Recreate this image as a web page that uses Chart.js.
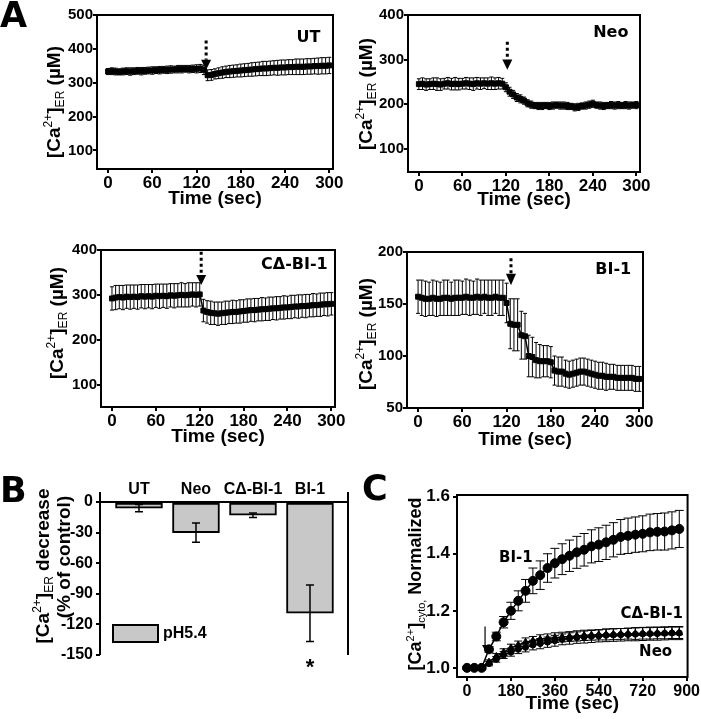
<!DOCTYPE html>
<html>
<head>
<meta charset="utf-8">
<script src="https://cdn.jsdelivr.net/npm/chart.js@4.4.0/dist/chart.umd.min.js"></script>
<style>
  html, body { margin: 0; padding: 0; background: #fff; }
  #wrap { position: relative; width: 701px; height: 719px; overflow: hidden; background: #fff; }
  canvas { position: absolute; }
</style>
</head>
<body>
<div id="wrap">
  <canvas id="cUT" width="350" height="220" style="left:0px;top:0px"></canvas>
  <canvas id="cNeo" width="351" height="220" style="left:350px;top:0px"></canvas>
  <canvas id="cCd" width="350" height="240" style="left:0px;top:220px"></canvas>
  <canvas id="cBI" width="351" height="240" style="left:350px;top:220px"></canvas>
  <canvas id="cB" width="355" height="259" style="left:0px;top:460px"></canvas>
  <canvas id="cC" width="346" height="259" style="left:355px;top:460px"></canvas>
</div>
<script>
"use strict";
const FONT = "'Liberation Sans', Arial, sans-serif";
const LFONT = "'DejaVu Sans', sans-serif";
Chart.defaults.font.family = FONT;
Chart.defaults.font.weight = 'bold';
Chart.defaults.color = '#000';

// ---- Panel A: ER calcium traces (time in sec) ----
const tA = [0,5,10,15,20,25,30,35,40,45,50,55,60,65,70,75,80,85,90,95,100,105,110,115,120,125,130,135,140,145,150,155,160,165,170,175,180,185,190,195,200,205,210,215,220,225,230,235,240,245,250,255,260,265,270,275,280,285,290,295,300];
const xTicksA = [0, 60, 120, 180, 240, 300];

const utVals = [333,334,333,332,333,334,333,334,335,334,335,336,336,
  337,337,338,338,339,339,340,340,341,340,341,341,342,
  338,322,323,326,328,330,332,333,334,335,336,337,338,339,340,341,342,342,343,344,344,345,345,346,346,347,347,347,348,348,349,349,350,350,351];
const utErr = [9,10,10,9,10,10,11,10,10,11,10,10,11,10,11,10,11,11,10,11,11,10,11,11,12,12,
  14,16,16,15,16,17,17,18,18,18,19,19,19,20,20,20,21,21,21,21,22,22,22,22,22,23,23,23,23,23,23,24,24,24,24];

const neoVals = [245,246,244,245,246,245,244,246,247,245,246,245,246,247,246,245,247,246,247,246,247,246,247,246,
  238,228,222,215,212,208,202,199,197,196,196,197,196,197,198,197,197,196,195,193,194,196,197,199,201,198,197,196,197,198,197,198,197,198,197,198,198];
const neoErr = [12,13,13,12,13,14,13,12,13,13,14,13,12,13,13,14,13,13,12,13,14,13,13,12,
  10,10,9,9,9,8,8,8,7,8,8,7,8,8,7,8,8,8,7,8,8,7,8,8,8,7,8,8,7,8,8,8,7,8,8,7,8];

const cdVals = [292,294,295,294,296,295,296,295,297,296,297,296,298,297,298,297,299,298,299,300,299,300,301,300,301,
  265,262,260,259,258,259,260,261,262,262,263,264,265,266,266,267,268,268,269,270,270,271,272,272,273,274,274,275,275,276,277,277,278,279,279,280];
const cdErr = [26,27,26,27,26,27,26,27,26,27,26,27,26,27,26,27,26,27,26,27,26,27,26,27,26,
  25,25,26,25,26,25,26,25,26,25,26,25,26,25,26,25,26,25,26,25,26,25,26,25,26,25,26,25,26,25,26,25,26,25,26,25];

const biVals = [157,156,155,155,156,155,155,156,156,155,156,156,156,157,156,156,157,156,157,156,156,157,156,156,
  151,131,130,130,120,119,100,99,96,95,95,95,94,86,85,85,83,82,83,84,85,85,84,83,82,81,81,80,80,80,79,79,79,79,79,78,78];
const biErr = [16,17,17,16,17,17,16,17,17,16,17,17,16,17,17,16,17,17,16,17,17,16,17,17,
  19,24,25,25,23,22,20,19,17,16,15,15,15,14,14,14,13,13,13,13,13,13,13,13,13,13,13,13,12,12,12,12,12,12,12,12,12];

// ---- Panel B: decrease at pH 5.4 ----
const catsB = ['UT', 'Neo', 'C\u0394-BI-1', 'BI-1'];
const posB = [0, 1, 2, 3];
const valsB = [-6, -30, -13, -109];
const errB = [3.5, 9.5, 2.3, 27.7];
const yTicksB = [-150, -120, -90, -60, -30, 0];

// ---- Panel C: cytosolic calcium, normalized ----
const tC = [0,30,60,90,120,150,180,210,240,270,300,330,360,390,420,450,480,510,540,570,600,630,660,690,720,750,780,810,840,870];
const bi1C = [1.0,1.0,1.0,1.065,1.11,1.16,1.20,1.235,1.27,1.305,1.325,1.35,1.367,1.381,1.393,1.405,1.414,1.426,1.432,1.44,1.449,1.459,1.463,1.467,1.47,1.475,1.477,1.478,1.482,1.487];
const bi1CErr = [0.005,0.005,0.005,0.01,0.015,0.02,0.03,0.035,0.04,0.045,0.05,0.05,0.052,0.054,0.055,0.056,0.057,0.058,0.059,0.06,0.06,0.061,0.062,0.062,0.063,0.064,0.064,0.065,0.065,0.065];
const cdC = [1.0,1.0,1.0,1.02,1.04,1.055,1.07,1.08,1.09,1.095,1.10,1.103,1.106,1.108,1.11,1.112,1.114,1.115,1.116,1.117,1.118,1.119,1.12,1.12,1.121,1.121,1.122,1.122,1.123,1.123];
const cdCErr = [0.004,0.004,0.004,0.008,0.01,0.012,0.013,0.014,0.015,0.015,0.016,0.016,0.017,0.017,0.017,0.018,0.018,0.018,0.018,0.019,0.019,0.019,0.019,0.02,0.02,0.02,0.02,0.02,0.02,0.02];
const neoC = [1.0,1.0,1.0,1.015,1.03,1.045,1.055,1.065,1.072,1.08,1.085,1.09,1.095,1.10,1.103,1.106,1.108,1.11,1.112,1.114,1.115,1.116,1.117,1.118,1.119,1.12,1.12,1.121,1.122,1.122];
const neoCErr = [0.004,0.004,0.004,0.008,0.01,0.012,0.014,0.015,0.016,0.017,0.018,0.018,0.019,0.019,0.02,0.02,0.021,0.021,0.021,0.022,0.022,0.022,0.022,0.023,0.023,0.023,0.023,0.023,0.023,0.023];
const xTicksC = [0, 180, 360, 540, 720, 900];
const yTicksC = [1.0, 1.2, 1.4, 1.6];

// error bars from dataset.errs, drawn over the marks
const errorBars = {
  id: 'errorBars',
  afterDatasetsDraw(chart) {
    const ctx = chart.ctx;
    const ys = chart.scales.y;
    chart.data.datasets.forEach((ds, i) => {
      if (!ds.errs) return;
      const meta = chart.getDatasetMeta(i);
      ctx.save();
      ctx.strokeStyle = '#000';
      ctx.lineWidth = ds.errWidth || 1;
      meta.data.forEach((el, j) => {
        const v = ds.data[j].y;
        const e = ds.errs[j];
        const hi = ys.getPixelForValue(v + e), lo = ys.getPixelForValue(v - e);
        const w = ds.capW / 2;
        ctx.beginPath();
        ctx.moveTo(el.x, hi); ctx.lineTo(el.x, lo);
        ctx.moveTo(el.x - w, hi); ctx.lineTo(el.x + w, hi);
        ctx.moveTo(el.x - w, lo); ctx.lineTo(el.x + w, lo);
        ctx.stroke();
      });
      ctx.restore();
    });
  }
};
Chart.register(errorBars);

// rotated axis title with super/subscripts
function drawRich(ctx, parts, cx, cy, size) {
  ctx.save();
  ctx.translate(cx, cy);
  ctx.rotate(-Math.PI / 2);
  ctx.textAlign = 'left';
  ctx.textBaseline = 'alphabetic';
  const fontFor = p => p[1] ? `normal ${Math.round(size * 0.62)}px ${FONT}` : `bold ${size}px ${FONT}`;
  let w = 0;
  parts.forEach(p => { ctx.font = fontFor(p); w += ctx.measureText(p[0]).width; });
  let xx = -w / 2;
  const base = size * 0.36;
  parts.forEach(p => {
    ctx.font = fontFor(p);
    const dy = p[1] === 'sup' ? -size * 0.42 : p[1] === 'sub' ? size * 0.22 : 0;
    ctx.fillText(p[0], xx, base + dy);
    xx += ctx.measureText(p[0]).width;
  });
  ctx.restore();
}

// frame, labels, arrows, titles, panel letter
function deco(cfg) {
  return {
    id: 'deco',
    afterDraw(chart) {
      const { ctx, chartArea: a } = chart;
      const xs = chart.scales.x, ys = chart.scales.y;
      ctx.save();
      ctx.fillStyle = '#000';
      ctx.strokeStyle = '#000';
      ctx.lineWidth = 2;
      if (cfg.frame === 'box') ctx.strokeRect(a.left, a.top, a.width, a.height);
      if (cfg.frame === 'sides') {
        ctx.beginPath();
        ctx.moveTo(a.left, a.top - 10); ctx.lineTo(a.left, a.bottom);
        ctx.moveTo(a.right, a.top - 10); ctx.lineTo(a.right, a.bottom);
        ctx.stroke();
      }
      (cfg.arrows || []).forEach(ar => {
        const px = xs.getPixelForValue(ar.x);
        const pTop = ys.getPixelForValue(ar.top), pNeck = ys.getPixelForValue(ar.neck), pTip = ys.getPixelForValue(ar.tip);
        ctx.beginPath();
        if (ar.dotted) { ctx.lineWidth = 3; ctx.setLineDash([3, 3]); } else { ctx.lineWidth = 1.2; }
        ctx.moveTo(px, pTop); ctx.lineTo(px, pNeck);
        ctx.stroke();
        ctx.setLineDash([]);
        ctx.beginPath();
        ctx.moveTo(px - ar.hw, pNeck); ctx.lineTo(px + ar.hw, pNeck); ctx.lineTo(px, pTip);
        ctx.closePath();
        ctx.fill();
      });
      (cfg.texts || []).forEach(t => {
        ctx.font = t.font;
        ctx.textAlign = t.align || 'center';
        ctx.textBaseline = 'middle';
        ctx.fillText(t.text, xs.getPixelForValue(t.x), ys.getPixelForValue(t.y));
      });
      if (cfg.legend) {
        const ds = chart.data.datasets[0];
        const lx = a.left + 13, ly = a.bottom - 30;
        ctx.fillStyle = ds.backgroundColor;
        ctx.fillRect(lx, ly, 45, 17);
        ctx.lineWidth = 2;
        ctx.strokeRect(lx, ly, 45, 17);
        ctx.fillStyle = '#000';
        ctx.font = `bold 16px ${FONT}`;
        ctx.textAlign = 'left';
        ctx.textBaseline = 'middle';
        ctx.fillText(ds.label, lx + 50, ly + 9);
      }
      if (cfg.star) {
        ctx.font = `bold 22px ${FONT}`;
        ctx.textAlign = 'center';
        ctx.textBaseline = 'middle';
        ctx.fillText('*', xs.getPixelForValue(cfg.star), a.bottom + 13);
      }
      (cfg.yTitles || []).forEach(t => drawRich(ctx, t.parts, t.cx, t.cy, t.size));
      if (cfg.letter) {
        ctx.font = `bold 35px ${LFONT}`;
        ctx.textAlign = 'left';
        ctx.textBaseline = 'alphabetic';
        ctx.fillText(cfg.letter.text, cfg.letter.x, cfg.letter.y);
      }
      ctx.restore();
    }
  };
}

const caER = [['[Ca', ''], ['2+', 'sup'], [']', ''], ['ER', 'sub'], [' (\u00b5M)', '']];

function panelA(id, vals, errs, yMin, yMax, yTicks, o) {
  return new Chart(document.getElementById(id), {
    type: 'line',
    data: {
      datasets: [{
        data: tA.map((t, i) => ({ x: t, y: vals[i] })),
        errs: errs, capW: 4,
        borderColor: '#000', borderWidth: 1.5,
        backgroundColor: '#000', pointBackgroundColor: '#000', pointBorderColor: '#000',
        pointStyle: 'rect', pointRadius: 3.5, pointBorderWidth: 1
      }]
    },
    options: {
      responsive: false, animation: false, events: [],
      layout: { padding: { top: o.padTop, right: o.padRight, left: 0, bottom: 0 } },
      plugins: { legend: { display: false }, tooltip: { enabled: false } },
      scales: {
        x: {
          type: 'linear', min: -15, max: 305,
          afterBuildTicks: s => { s.ticks = xTicksA.map(v => ({ value: v })); },
          afterFit: s => { s.height = o.xH; },
          border: { display: false },
          grid: { drawOnChartArea: false, color: '#000', lineWidth: 2, tickLength: 4 },
          ticks: { autoSkip: false, maxRotation: 0, padding: 0, font: { size: 17, weight: 'bold' } },
          title: { display: true, text: 'Time (sec)', font: { size: 19, weight: 'bold' }, padding: { top: 0, bottom: o.titlePad } }
        },
        y: {
          type: 'linear', min: yMin, max: yMax,
          afterBuildTicks: s => { s.ticks = yTicks.map(v => ({ value: v })); },
          afterFit: s => { s.width = o.yW; },
          border: { display: false },
          grid: { drawOnChartArea: false, color: '#000', lineWidth: 2, tickLength: 4 },
          ticks: { autoSkip: false, padding: 0, font: { size: 15, weight: 'bold' } }
        }
      }
    },
    plugins: [deco(o.deco)]
  });
}

const bigLbl = `bold 16px ${LFONT}`;

panelA('cUT', utVals, utErr, 45, 500, [100, 200, 300, 400, 500], {
  padTop: 15, padRight: 17, xH: 51, yW: 97, titlePad: 10,
  deco: {
    frame: 'box',
    arrows: [{ x: 133, top: 425, neck: 368, tip: 338, hw: 5, dotted: true }],
    texts: [{ text: 'UT', x: 288, y: 432, align: 'right', font: bigLbl }],
    yTitles: [{ parts: caER, cx: 53, cy: 102, size: 19 }],
    letter: { text: 'A', x: 0, y: 27 }
  }
});

panelA('cNeo', neoVals, neoErr, 48, 400, [100, 200, 300, 400], {
  padTop: 15, padRight: 61, xH: 48, yW: 58, titlePad: 9,
  deco: {
    frame: 'box',
    arrows: [{ x: 122, top: 340, neck: 300, tip: 277, hw: 5, dotted: true }],
    texts: [{ text: 'Neo', x: 289, y: 360, align: 'right', font: bigLbl }],
    yTitles: [{ parts: caER, cx: 15, cy: 94, size: 19 }]
  }
});

panelA('cCd', cdVals, cdErr, 50, 400, [100, 200, 300, 400], {
  padTop: 30, padRight: 15, xH: 53, yW: 101, titlePad: 12,
  deco: {
    frame: 'box',
    arrows: [{ x: 122, top: 396, neck: 344, tip: 322, hw: 5, dotted: true }],
    texts: [{ text: 'C\u0394-BI-1', x: 295, y: 366, align: 'right', font: bigLbl }],
    yTitles: [{ parts: caER, cx: 56, cy: 103, size: 19 }]
  }
});

panelA('cBI', biVals, biErr, 50, 200, [50, 100, 150, 200], {
  padTop: 32, padRight: 58, xH: 52, yW: 57, titlePad: 9,
  deco: {
    frame: 'box',
    arrows: [{ x: 126, top: 194, neck: 179, tip: 168, hw: 5, dotted: true }],
    texts: [{ text: 'BI-1', x: 289, y: 183, align: 'right', font: bigLbl }],
    yTitles: [{ parts: caER, cx: 15, cy: 114, size: 19 }]
  }
});

// Panel B
new Chart(document.getElementById('cB'), {
  type: 'bar',
  data: {
    datasets: [{
      label: 'pH5.4',
      data: posB.map((p, i) => ({ x: p, y: valsB[i] })),
      errs: errB, capW: 8, errWidth: 1.5,
      backgroundColor: '#c8c8c8', borderColor: '#000', borderWidth: 2,
      borderSkipped: false, barThickness: 47
    }]
  },
  options: {
    responsive: false, animation: false, events: [],
    layout: { padding: { top: 0, right: 7, left: 0, bottom: 64 } },
    plugins: { legend: { display: false }, tooltip: { enabled: false } },
    scales: {
      x: {
        type: 'linear', position: 'top', min: -0.684, max: 3.667, offset: false,
        afterBuildTicks: s => { s.ticks = posB.map(v => ({ value: v })); },
        afterFit: s => { s.height = 42; },
        border: { display: true, color: '#000', width: 2 },
        grid: { display: false, drawTicks: false, offset: false },
        ticks: { autoSkip: false, maxRotation: 0, padding: 3, font: { size: 16, weight: 'bold' },
                 callback: v => catsB[Math.round(v)] }
      },
      y: {
        type: 'linear', min: -150, max: 0,
        afterBuildTicks: s => { s.ticks = yTicksB.map(v => ({ value: v })); },
        afterFit: s => { s.width = 100; },
        border: { display: false },
        grid: { drawOnChartArea: false, color: '#000', lineWidth: 2, tickLength: 4 },
        ticks: { autoSkip: false, padding: 3, font: { size: 16, weight: 'bold' } }
      }
    }
  },
  plugins: [deco({
    frame: 'sides',
    legend: true,
    star: 3,
    yTitles: [
      { parts: [['[Ca', ''], ['2+', 'sup'], [']', ''], ['ER', 'sub'], [' decrease', '']], cx: 42, cy: 106, size: 19 },
      { parts: [['(% of control)', '']], cx: 63, cy: 97, size: 19 }
    ],
    letter: { text: 'B', x: 0, y: 42 }
  })]
});

// Panel C
const lineDs = (vals, errs, style, r, cap) => ({
  data: tC.map((t, i) => ({ x: t, y: vals[i] })),
  errs: errs, capW: cap,
  borderColor: '#000', borderWidth: 1.5,
  backgroundColor: '#000', pointBackgroundColor: '#000', pointBorderColor: '#000',
  pointStyle: style, pointRadius: r, pointBorderWidth: 1
});

new Chart(document.getElementById('cC'), {
  type: 'line',
  data: {
    datasets: [
      lineDs(neoC, neoCErr, 'circle', 3, 8),
      lineDs(cdC, cdCErr, 'triangle', 4, 8),
      lineDs(bi1C, bi1CErr, 'circle', 4.5, 9)
    ]
  },
  options: {
    responsive: false, animation: false, events: [],
    layout: { padding: { top: 35, right: 13, left: 0, bottom: 0 } },
    plugins: { legend: { display: false }, tooltip: { enabled: false } },
    scales: {
      x: {
        type: 'linear', min: -41, max: 904,
        afterBuildTicks: s => { s.ticks = xTicksC.map(v => ({ value: v })); },
        afterFit: s => { s.height = 42; },
        border: { display: false },
        grid: { drawOnChartArea: false, color: '#000', lineWidth: 2, tickLength: 4 },
        ticks: { autoSkip: false, maxRotation: 0, padding: 1, font: { size: 16, weight: 'bold' } },
        title: { display: true, text: 'Time (sec)', font: { size: 19, weight: 'bold' }, padding: { top: 0, bottom: 4 } }
      },
      y: {
        type: 'linear', min: 0.968, max: 1.606,
        afterBuildTicks: s => { s.ticks = yTicksC.map(v => ({ value: v })); },
        afterFit: s => { s.width = 102; },
        border: { display: false },
        grid: { drawOnChartArea: false, color: '#000', lineWidth: 2, tickLength: 4 },
        ticks: { autoSkip: false, padding: 3, font: { size: 17, weight: 'bold' }, callback: v => v.toFixed(1) }
      }
    }
  },
  plugins: [deco({
    frame: 'box',
    arrows: [{ x: 74, top: 1.145, neck: 1.08, tip: 1.062, hw: 3, dotted: false }],
    texts: [
      { text: 'BI-1', x: 200, y: 1.386, font: `bold 15px ${LFONT}` },
      { text: 'C\u0394-BI-1', x: 757, y: 1.19, font: `bold 15px ${LFONT}` },
      { text: 'Neo', x: 773, y: 1.056, font: `bold 15px ${LFONT}` }
    ],
    yTitles: [{ parts: [['[Ca', ''], ['2+', 'sup'], [']', ''], ['cyto,', 'sub'], [' Normalized', '']], cx: 60, cy: 124, size: 18 }],
    letter: { text: 'C', x: 7, y: 40 }
  })]
});
</script>
</body>
</html>
